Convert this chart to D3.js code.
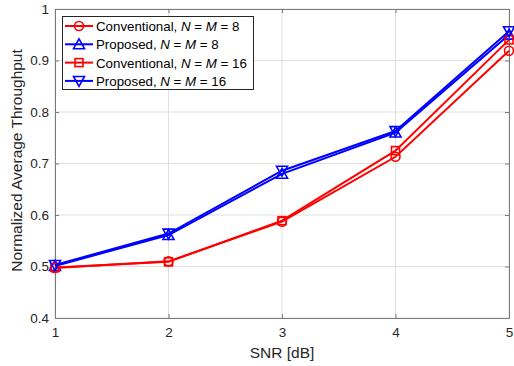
<!DOCTYPE html>
<html><head><meta charset="utf-8">
<script src="https://cdn.jsdelivr.net/npm/d3@7"></script>
<style>body{margin:0;background:#fff}svg{display:block}text{font-family:"Liberation Sans",Arial,sans-serif}</style>
</head><body><svg id="c" width="514" height="366"></svg>
<script>
const snr = [1, 2, 3, 4, 5];
const conv8 = [0.497, 0.510, 0.587, 0.713, 0.919];
const prop8 = [0.501, 0.561, 0.680, 0.760, 0.950];
const conv16 = [0.498, 0.509, 0.589, 0.725, 0.940];
const prop16 = [0.503, 0.564, 0.686, 0.763, 0.957];
const xTicks = [1, 2, 3, 4, 5];
const yTicks = [0.4, 0.5, 0.6, 0.7, 0.8, 0.9, 1];
const seriesNames = ["Conventional", "Proposed", "Conventional", "Proposed"];
const seriesNM = ["8", "8", "16", "16"];

const series = [
  {vals: conv8, color: "#ff0000", marker: "circle"},
  {vals: prop8, color: "#0000ff", marker: "up"},
  {vals: conv16, color: "#ff0000", marker: "square"},
  {vals: prop16, color: "#0000ff", marker: "down"}
];

const svg = d3.select("#c");
const L = 55, R = 509, T = 9, B = 318;
const x = d3.scaleLinear().domain([1, 5]).range([L, R]);
const y = d3.scaleLinear().domain([0.4, 1]).range([B, T]);
const axisColor = "#262626";

// grid
const g = svg.append("g");
g.selectAll(".gx").data(xTicks).join("line")
  .attr("x1", d => x(d)).attr("x2", d => x(d)).attr("y1", T).attr("y2", B)
  .attr("stroke", "#dfdfdf").attr("stroke-width", 1);
g.selectAll(".gy").data(yTicks).join("line")
  .attr("y1", d => y(d)).attr("y2", d => y(d)).attr("x1", L).attr("x2", R)
  .attr("stroke", "#dfdfdf").attr("stroke-width", 1);

// axes
const xa = svg.append("g").attr("transform", `translate(0,${B})`)
  .call(d3.axisBottom(x).tickValues(xTicks).tickFormat(d3.format("d")).tickSizeInner(-4).tickSizeOuter(0).tickPadding(9));
const xt = svg.append("g").attr("transform", `translate(0,${T})`)
  .call(d3.axisTop(x).tickValues(xTicks).tickFormat("").tickSizeInner(-4).tickSizeOuter(0));
const ya = svg.append("g").attr("transform", `translate(${L},0)`)
  .call(d3.axisLeft(y).tickValues(yTicks).tickFormat(d => d === 1 ? "1" : d3.format(".1f")(d)).tickSizeInner(-4).tickSizeOuter(0).tickPadding(6));
const yr = svg.append("g").attr("transform", `translate(${R},0)`)
  .call(d3.axisRight(y).tickValues(yTicks).tickFormat("").tickSizeInner(-4).tickSizeOuter(0));
[xa, xt, ya, yr].forEach(a => {
  a.select(".domain").attr("stroke", "#7a7a7a");
  a.selectAll(".tick line").attr("stroke", "#7a7a7a");
  a.selectAll("text").attr("fill", axisColor).attr("font-size", 13.5).attr("font-family", "Liberation Sans, Arial, sans-serif");
});

// lines and markers
function drawMarker(sel, type, color, cx, cy) {
  const s = 4.5;
  if (type === "circle") {
    sel.append("circle").attr("cx", cx).attr("cy", cy).attr("r", s).attr("fill", "none").attr("stroke", color).attr("stroke-width", 1.6);
  } else if (type === "square") {
    sel.append("rect").attr("x", cx - 4).attr("y", cy - 4).attr("width", 8).attr("height", 8).attr("fill", "none").attr("stroke", color).attr("stroke-width", 1.6);
  } else if (type === "up") {
    const h = 5.5;
    sel.append("path").attr("d", `M${cx},${cy - h}L${cx + h},${cy + h * 0.8}L${cx - h},${cy + h * 0.8}Z`).attr("fill", "none").attr("stroke", color).attr("stroke-width", 1.6);
  } else {
    const h = 5.5;
    sel.append("path").attr("d", `M${cx},${cy + h}L${cx + h},${cy - h * 0.8}L${cx - h},${cy - h * 0.8}Z`).attr("fill", "none").attr("stroke", color).attr("stroke-width", 1.6);
  }
}
const line = d3.line().x((d, i) => x(snr[i])).y(d => y(d));
const pg = svg.append("g");
series.forEach(s => {
  pg.append("path").attr("d", line(s.vals)).attr("fill", "none").attr("stroke", s.color).attr("stroke-width", 2);
  s.vals.forEach((v, i) => drawMarker(pg, s.marker, s.color, x(snr[i]), y(v)));
});

// labels
svg.append("text").attr("x", (L + R) / 2).attr("y", 358).attr("text-anchor", "middle")
  .attr("font-size", 15.5).attr("fill", axisColor).text("SNR [dB]");
svg.append("text").attr("transform", `translate(22,${(T + B) / 2 - 3}) rotate(-90)`).attr("text-anchor", "middle")
  .attr("font-size", 15.5).attr("fill", axisColor).text("Normalized Average Throughput");

// legend
const lg = svg.append("g");
lg.append("rect").attr("x", 62.5).attr("y", 16.5).attr("width", 191).attr("height", 73)
  .attr("fill", "#fff").attr("stroke", "#262626").attr("stroke-width", 1);
series.forEach((s, i) => {
  const cy = 26 + i * 18.3;
  lg.append("line").attr("x1", 65).attr("x2", 93).attr("y1", cy).attr("y2", cy).attr("stroke", s.color).attr("stroke-width", 2);
  drawMarker(lg, s.marker, s.color, 79, cy);
  const t = lg.append("text").attr("x", 96).attr("y", cy + 5).attr("font-size", 13.3).attr("fill", "#000");
  t.append("tspan").text(seriesNames[i] + ", ");
  t.append("tspan").attr("font-style", "italic").text("N");
  t.append("tspan").text(" = ");
  t.append("tspan").attr("font-style", "italic").text("M");
  t.append("tspan").text(" = " + seriesNM[i]);
});
</script></body></html>
